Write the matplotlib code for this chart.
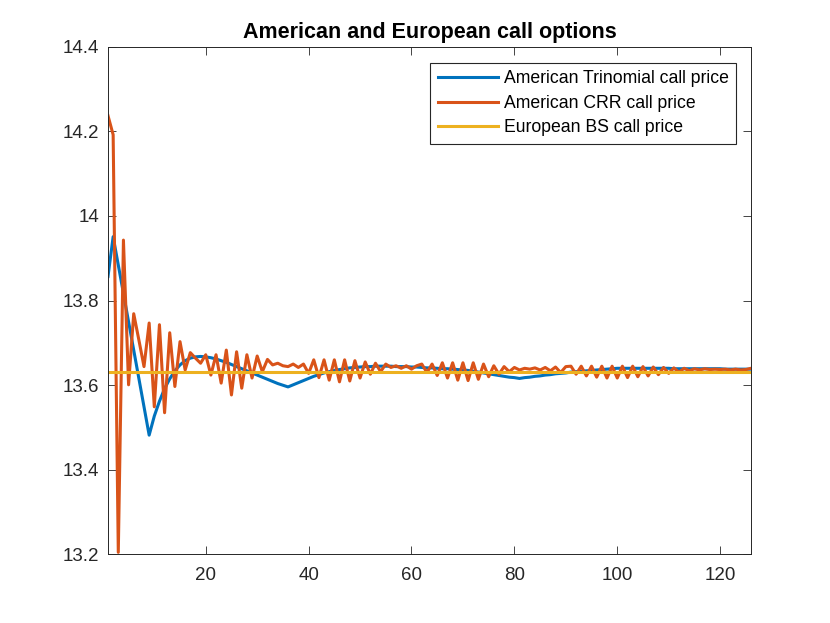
import matplotlib
matplotlib.use("Agg")
import matplotlib.pyplot as plt
from matplotlib.ticker import FixedLocator, FuncFormatter

plt.rcParams['font.family'] = ['Liberation Sans', 'DejaVu Sans']

steps = list(range(1, 127))

trinomial_price = [
    13.857, 13.951, 13.884, 13.817, 13.750, 13.683, 13.616, 13.549, 13.482, 13.527,
    13.562, 13.592, 13.615, 13.634, 13.648, 13.658, 13.664, 13.667, 13.668, 13.667,
    13.665, 13.662, 13.658, 13.654, 13.649, 13.644, 13.639, 13.634, 13.629, 13.624,
    13.619, 13.614, 13.609, 13.604, 13.600, 13.596, 13.601, 13.606, 13.611, 13.616,
    13.621, 13.625, 13.629, 13.632, 13.635, 13.637, 13.639, 13.641, 13.642, 13.643,
    13.644, 13.644, 13.645, 13.645, 13.645, 13.645, 13.644, 13.644, 13.644, 13.643,
    13.643, 13.642, 13.641, 13.641, 13.640, 13.639, 13.639, 13.638, 13.637, 13.636,
    13.635, 13.633, 13.631, 13.629, 13.627, 13.625, 13.623, 13.621, 13.619, 13.618,
    13.616, 13.618, 13.619, 13.621, 13.622, 13.624, 13.625, 13.627, 13.628, 13.629,
    13.631, 13.632, 13.633, 13.634, 13.635, 13.636, 13.637, 13.638, 13.639, 13.640,
    13.640, 13.640, 13.640, 13.640, 13.640, 13.640, 13.640, 13.640, 13.640, 13.640,
    13.639, 13.639, 13.639, 13.639, 13.639, 13.639, 13.639, 13.639, 13.639, 13.639,
    13.638, 13.638, 13.638, 13.638, 13.638, 13.638,
]

crr_price = [
    14.237, 14.192, 13.205, 13.943, 13.601, 13.769, 13.707, 13.644, 13.747, 13.549,
    13.743, 13.535, 13.724, 13.597, 13.703, 13.636, 13.677, 13.664, 13.652, 13.672,
    13.624, 13.672, 13.605, 13.683, 13.577, 13.679, 13.593, 13.672, 13.617, 13.669,
    13.632, 13.661, 13.648, 13.652, 13.646, 13.644, 13.650, 13.642, 13.650, 13.628,
    13.660, 13.618, 13.660, 13.612, 13.660, 13.608, 13.660, 13.610, 13.658, 13.617,
    13.655, 13.626, 13.652, 13.632, 13.650, 13.642, 13.646, 13.640, 13.646, 13.638,
    13.646, 13.650, 13.630, 13.650, 13.623, 13.653, 13.617, 13.653, 13.612, 13.653,
    13.611, 13.653, 13.614, 13.650, 13.620, 13.646, 13.626, 13.644, 13.632, 13.642,
    13.636, 13.640, 13.638, 13.641, 13.636, 13.642, 13.634, 13.643, 13.630, 13.644,
    13.645, 13.626, 13.645, 13.622, 13.645, 13.619, 13.645, 13.617, 13.645, 13.617,
    13.645, 13.618, 13.645, 13.620, 13.644, 13.622, 13.643, 13.625, 13.642, 13.628,
    13.641, 13.631, 13.640, 13.634, 13.639, 13.636, 13.639, 13.637, 13.638, 13.637,
    13.638, 13.636, 13.638, 13.636, 13.637, 13.640,
]

bs_price = 13.632

labels = ["American Trinomial call price", "American CRR call price", "European BS call price"]
title = "American and European call options"
xticks = [20, 40, 60, 80, 100, 120]
yticks = [13.2, 13.4, 13.6, 13.8, 14.0, 14.2, 14.4]

fig = plt.figure(figsize=(8.3, 6.23), dpi=100)
ax = fig.add_axes([108 / 830, 0.11, 643 / 830, 0.815])

ax.plot(steps, trinomial_price, color='#0072BD', lw=2.2, label=labels[0])
ax.plot(steps, crr_price, color='#D95319', lw=2.2, label=labels[1])
ax.plot(steps, [bs_price] * len(steps), color='#EDB120', lw=2.2, label=labels[2])

ax.set_xlim(1, 126)
ax.set_ylim(13.2, 14.4)
ax.xaxis.set_major_locator(FixedLocator(xticks))
ax.yaxis.set_major_locator(FixedLocator(yticks))
ax.yaxis.set_major_formatter(FuncFormatter(lambda v, p: f"{v:g}"))

dark = '#262626'
for s in ax.spines.values():
    s.set_color(dark)
    s.set_linewidth(0.7)
ax.tick_params(direction='in', length=6, width=0.6, colors=dark, labelsize=13.5,
               top=True, right=True)
ax.tick_params(axis='x', pad=9)
ax.tick_params(axis='y', pad=6.3)

ax.set_title(title, fontsize=15.5, fontweight='bold', pad=6, color='black')

leg = ax.legend(loc='upper right', bbox_to_anchor=(736 / 830, 1 - 63 / 623),
                bbox_transform=fig.transFigure, fontsize=12.7, handlelength=3.45,
                handletextpad=0.3, borderaxespad=0, borderpad=0.42,
                labelspacing=0.42, fancybox=False, framealpha=1)
leg.get_frame().set_edgecolor(dark)
leg.get_frame().set_linewidth(0.8)

fig.savefig("out.png", dpi=100)
